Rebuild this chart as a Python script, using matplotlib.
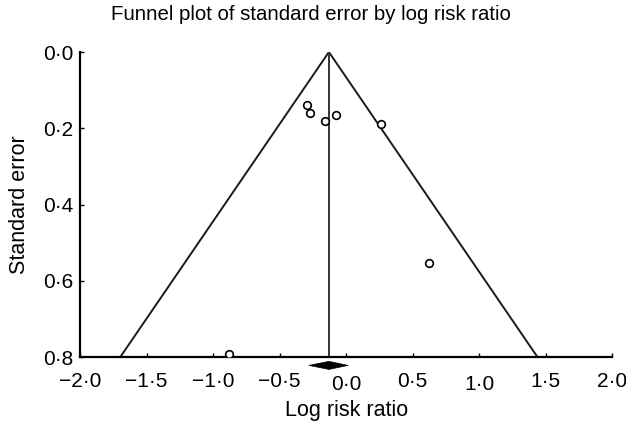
import matplotlib
matplotlib.use("Agg")
import matplotlib.pyplot as plt
import numpy as np
from matplotlib.patches import Polygon

plt.rcParams['font.family'] = ['Liberation Sans', 'DejaVu Sans']

# Study data (log risk ratio, standard error)
log_rr = [-0.293, -0.271, -0.158, -0.075, 0.263, 0.624, -0.88]
std_err = [0.139, 0.161, 0.182, 0.166, 0.189, 0.553, 0.792]

# Pooled estimate and its confidence interval
pooled = -0.13
ci_low = -0.28
ci_high = 0.015

x_ticks = [-2.0, -1.5, -1.0, -0.5, 0.0, 0.5, 1.0, 1.5, 2.0]
x_tick_labels = ['−2·0', '−1·5', '−1·0', '−0·5', '0·0', '0·5', '1·0', '1·5', '2·0']
y_ticks = [0.0, 0.2, 0.4, 0.6, 0.8]
y_tick_labels = ['0·0', '0·2', '0·4', '0·6', '0·8']

se_max = 0.8

fig = plt.figure(figsize=(6.26, 4.23), dpi=100)
ax = fig.add_axes([0.128, 0.156, 0.85, 0.721])

# Funnel
se_line = np.array([0.0, se_max])
ax.plot(pooled - 1.96 * se_line, se_line, color='#1a1a1a', lw=1.4)
ax.plot(pooled + 1.96 * se_line, se_line, color='#1a1a1a', lw=1.4)
ax.plot([pooled, pooled], [0.0, se_max], color='#333333', lw=1.4)

# Studies
ax.plot(log_rr, std_err, linestyle='none', marker='o', markersize=5.5,
        markerfacecolor='white', markeredgecolor='black', markeredgewidth=1.2,
        zorder=5)

# Summary diamond below the axis
dy = 0.022
hh = 0.0105
diamond = Polygon([[ci_low, se_max + dy], [pooled, se_max + dy - hh],
                   [ci_high, se_max + dy], [pooled, se_max + dy + hh]],
                  closed=True, facecolor='black', edgecolor='black', lw=0.5,
                  clip_on=False, zorder=6)
ax.add_patch(diamond)

ax.set_xlim(-2.0, 2.0)
ax.set_ylim(se_max, 0.0)
ax.spines['top'].set_visible(False)
ax.spines['right'].set_visible(False)
ax.spines['left'].set_linewidth(1.6)
ax.spines['bottom'].set_linewidth(1.6)

ax.set_xticks(x_ticks)
ax.set_xticklabels(x_tick_labels)
ax.set_yticks(y_ticks)
ax.set_yticklabels(y_tick_labels)
ax.tick_params(axis='both', direction='in', length=3, width=1, labelsize=15)
ax.tick_params(axis='x', pad=11)
ax.tick_params(axis='y', pad=5)
for lab, v in zip(ax.get_xticklabels(), x_ticks):
    if v in (0.0, 1.0):
        lab.set_y(-0.009)

ax.set_xlabel('Log risk ratio', fontsize=15.5, labelpad=4)
ax.set_ylabel('Standard error', fontsize=15.5, labelpad=9)
ax.set_title('Funnel plot of standard error by log risk ratio', fontsize=14.7, pad=23, x=0.434)

fig.savefig('out.png', dpi=100)
